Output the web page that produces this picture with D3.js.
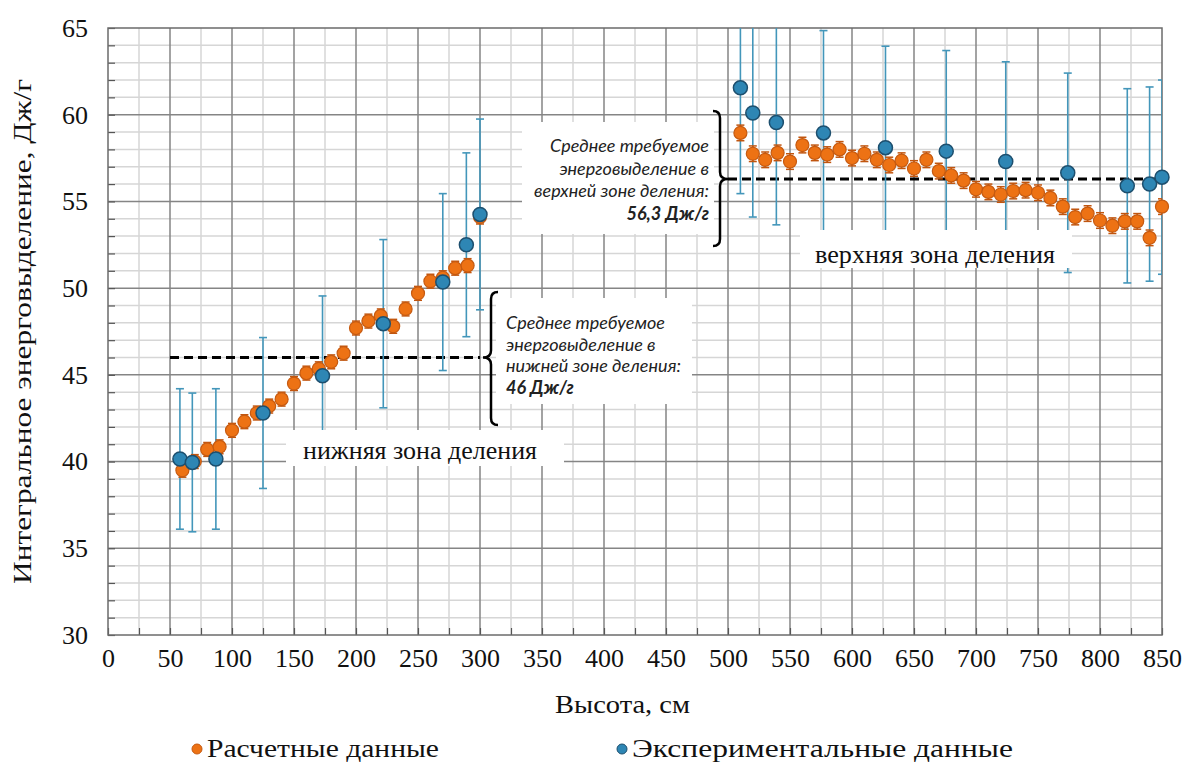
<!DOCTYPE html>
<html>
<head>
<meta charset="utf-8">
<script src="https://cdn.jsdelivr.net/npm/d3@7"></script>
<style>
  body { margin: 0; background: #fff; }
  svg { display: block; }
</style>
</head>
<body>
<div id="chart"></div>
<script>
// Calculated data (orange)
const calcX = [60, 70, 80, 90, 100, 110, 120, 130, 140, 150, 160, 170, 180, 190, 200, 210, 220, 230, 240, 250, 260, 270, 280, 290, 300,
    510, 520, 530, 540, 550, 560, 570, 580, 590, 600, 610, 620, 630, 640, 650, 660, 670, 680, 690, 700, 710, 720, 730, 740, 750, 760, 770, 780, 790, 800, 810, 820, 830, 840, 850];
const calcY = [39.5, 40.0, 40.7, 40.85, 41.8, 42.3, 42.8, 43.2, 43.6, 44.5, 45.1, 45.35, 45.75, 46.25, 47.7, 48.1, 48.4, 47.8, 48.8, 49.7, 50.4, 50.6, 51.15, 51.3, 54.1,
    58.95, 57.75, 57.4, 57.8, 57.3, 58.25, 57.8, 57.7, 58.0, 57.5, 57.75, 57.4, 57.1, 57.35, 56.9, 57.4, 56.75, 56.5, 56.2, 55.7, 55.55, 55.4, 55.6, 55.65, 55.5, 55.2, 54.7, 54.1, 54.3, 53.9, 53.6, 53.85, 53.85, 52.9, 54.7];
const calcErr = [0.4, 0.4, 0.4, 0.4, 0.4, 0.4, 0.4, 0.4, 0.4, 0.4, 0.4, 0.4, 0.4, 0.4, 0.4, 0.4, 0.4, 0.4, 0.4, 0.4, 0.4, 0.4, 0.4, 0.4, 0.4,
    0.45, 0.45, 0.45, 0.45, 0.45, 0.45, 0.45, 0.45, 0.45, 0.45, 0.45, 0.45, 0.45, 0.45, 0.45, 0.45, 0.45, 0.45, 0.45, 0.45, 0.45, 0.45, 0.45, 0.45, 0.45, 0.45, 0.45, 0.45, 0.45, 0.45, 0.45, 0.45, 0.45, 0.45, 0.45];

// Experimental data (blue)
const expX = [58, 68, 87, 125, 173, 222, 270, 289, 300, 510, 520, 539, 577, 627, 676, 724, 774, 822, 840, 850];
const expY = [40.15, 39.95, 40.15, 42.8, 44.95, 47.95, 50.35, 52.5, 54.25, 61.55, 60.1, 59.55, 58.95, 58.1, 57.9, 57.3, 56.65, 55.9, 56.0, 56.4];
const expErr = [4.05, 4.0, 4.05, 4.35, 4.6, 4.85, 5.1, 5.3, 5.5, 6.1, 6.0, 5.9, 5.9, 5.85, 5.8, 5.75, 5.75, 5.6, 5.6, 5.6];

// Average lines: [x start, x end, value]
const lowerMean = [50, 300, 46];
const upperMean = [500, 850, 56.3];

const xTicks = d3.range(0, 851, 50);
const yTicks = [30, 35, 40, 45, 50, 55, 60, 65];

const width = 1187, height = 769;
const margin = { left: 108, right: 25, top: 28, bottom: 134 };

const svg = d3.select("#chart").append("svg")
    .attr("width", width)
    .attr("height", height);

const x = d3.scaleLinear().domain([0, 850]).range([margin.left, width - margin.right]);
const y = d3.scaleLinear().domain([30, 65]).range([height - margin.bottom, margin.top]);

const serif = "'Liberation Serif', 'Times New Roman', 'DejaVu Serif', serif";
const serifNarrow = "'Liberation Serif', 'Times New Roman', 'DejaVu Serif Condensed', 'DejaVu Serif', serif";
const italicFont = "Lato, 'Open Sans', sans-serif";

// Grid: minor lines first, then major
const grid = svg.append("g");
grid.selectAll(".vminor").data(d3.range(25, 850, 50)).enter().append("line")
    .attr("x1", d => x(d)).attr("x2", d => x(d))
    .attr("y1", y(30)).attr("y2", y(65))
    .attr("stroke", "#d6d6d6").attr("stroke-width", 1.5);
grid.selectAll(".hminor").data(d3.range(31, 65).filter(v => v % 5 !== 0)).enter().append("line")
    .attr("x1", x(0)).attr("x2", x(850))
    .attr("y1", d => y(d)).attr("y2", d => y(d))
    .attr("stroke", "#d6d6d6").attr("stroke-width", 1.5);
grid.selectAll(".vmajor").data(xTicks.slice(1, -1)).enter().append("line")
    .attr("x1", d => x(d)).attr("x2", d => x(d))
    .attr("y1", y(30)).attr("y2", y(65))
    .attr("stroke", "#858585").attr("stroke-width", 1.5);
grid.selectAll(".hmajor").data(yTicks.slice(1, -1)).enter().append("line")
    .attr("x1", x(0)).attr("x2", x(850))
    .attr("y1", d => y(d)).attr("y2", d => y(d))
    .attr("stroke", "#858585").attr("stroke-width", 1.5);

// Axes
const xAxis = d3.axisBottom(x).tickValues(d3.range(0, 851, 25)).tickSizeInner(-7).tickSizeOuter(0)
    .tickFormat(d => d % 50 === 0 ? d : "");
const yAxis = d3.axisLeft(y).tickValues(d3.range(30, 66, 1)).tickSizeInner(-7).tickSizeOuter(0)
    .tickFormat(d => d % 5 === 0 ? d : "");

const gx = svg.append("g").attr("transform", `translate(0,${y(30)})`).call(xAxis);
const gy = svg.append("g").attr("transform", `translate(${x(0)},0)`).call(yAxis);
[gx, gy].forEach(g => {
    g.attr("font-family", null).attr("font-size", null);
    g.select(".domain").remove();
    g.selectAll(".tick line").attr("stroke", "#555").attr("stroke-width", 1.2);
    g.selectAll("text").style("font-family", serif).style("font-size", "26px").attr("fill", "#111");
});
gx.selectAll("text").attr("y", 14).attr("dy", "0.71em");
gy.selectAll("text").attr("x", -20);

// Plot frame
svg.append("rect")
    .attr("x", x(0)).attr("y", y(65))
    .attr("width", x(850) - x(0)).attr("height", y(30) - y(65))
    .attr("fill", "none").attr("stroke", "#6b6b6b").attr("stroke-width", 1.5);

// Mean dashed lines
[lowerMean, upperMean].forEach(m => {
    svg.append("line")
        .attr("x1", x(m[0])).attr("x2", x(m[1]))
        .attr("y1", y(m[2])).attr("y2", y(m[2]))
        .attr("stroke", "#000").attr("stroke-width", 3)
        .attr("stroke-dasharray", "9,5");
});

// Clip for error bars
svg.append("clipPath").attr("id", "plotClip").append("rect")
    .attr("x", x(0)).attr("y", y(65))
    .attr("width", x(850) - x(0)).attr("height", y(30) - y(65));

const expData = expX.map((d, i) => ({ x: d, y: expY[i], e: expErr[i] }));
const calcData = calcX.map((d, i) => ({ x: d, y: calcY[i], e: calcErr[i] }));

function errorBars(data, color, cap, sw) {
    const g = svg.append("g").attr("clip-path", "url(#plotClip)");
    g.selectAll("line.v").data(data).enter().append("line")
        .attr("x1", d => x(d.x)).attr("x2", d => x(d.x))
        .attr("y1", d => y(d.y - d.e)).attr("y2", d => y(d.y + d.e))
        .attr("stroke", color).attr("stroke-width", sw);
    [1, -1].forEach(s => {
        g.selectAll(null).data(data).enter().append("line")
            .attr("x1", d => x(d.x) - cap).attr("x2", d => x(d.x) + cap)
            .attr("y1", d => y(d.y + s * d.e)).attr("y2", d => y(d.y + s * d.e))
            .attr("stroke", color).attr("stroke-width", sw);
    });
}

errorBars(expData, "#4396ba", 4, 1.6);

// White label boxes that hide the grid and error bars behind them
const boxes = [
    [286, 430, 278, 36],
    [800, 230, 272, 38],
    [496, 298, 196, 106],
    [522, 122, 192, 112]
];
svg.selectAll(".box").data(boxes).enter().append("rect")
    .attr("x", d => d[0]).attr("y", d => d[1])
    .attr("width", d => d[2]).attr("height", d => d[3])
    .attr("fill", "#fff");

errorBars(calcData, "#c0550f", 4, 1.5);

// Points
svg.append("g").selectAll("circle").data(calcData).enter().append("circle")
    .attr("cx", d => x(d.x)).attr("cy", d => y(d.y)).attr("r", 6.5)
    .attr("fill", "#ed7214").attr("stroke", "#c65a10").attr("stroke-width", 1.2);
svg.append("g").selectAll("circle").data(expData).enter().append("circle")
    .attr("cx", d => x(d.x)).attr("cy", d => y(d.y)).attr("r", 7)
    .attr("fill", "#2e86b4").attr("stroke", "#1d4f6e").attr("stroke-width", 1.5);

// Braces
function brace(x0, y1, y2, ym, dir) {
    const w = 7 * dir, t = 8 * dir;
    return `M${x0 + w},${y1} Q${x0},${y1} ${x0},${y1 + 7} L${x0},${ym - 7} Q${x0},${ym} ${x0 - t},${ym}` +
        ` Q${x0},${ym} ${x0},${ym + 7} L${x0},${y2 - 7} Q${x0},${y2} ${x0 + w},${y2}`;
}
svg.append("path").attr("d", brace(491, 292, 425, y(lowerMean[2]), 1))
    .attr("fill", "none").attr("stroke", "#000").attr("stroke-width", 2.5);
svg.append("path").attr("d", brace(720, 111, 246, y(upperMean[2]), -1))
    .attr("fill", "none").attr("stroke", "#000").attr("stroke-width", 2.5);

// Annotation texts
const lowerNote = ["Среднее требуемое", "энерговыделение в", "нижней зоне деления:", "46 Дж/г"];
const upperNote = ["Среднее требуемое", "энерговыделение в", "верхней зоне деления:", "56,3 Дж/г"];

svg.append("g").selectAll("text").data(lowerNote).enter().append("text")
    .attr("x", 506).attr("y", (d, i) => 329 + i * 21.5)
    .style("font-family", italicFont).style("font-style", "italic").style("font-size", "18px")
    .style("font-weight", (d, i) => i === 3 ? "bold" : "normal")
    .attr("fill", "#222").text(d => d);
svg.append("g").selectAll("text").data(upperNote).enter().append("text")
    .attr("x", 709).attr("y", (d, i) => 152 + i * 22.5).attr("text-anchor", "end")
    .style("font-family", italicFont).style("font-style", "italic").style("font-size", "18px")
    .style("font-weight", (d, i) => i === 3 ? "bold" : "normal")
    .attr("fill", "#222").text(d => d);

// Plain serif text with a fixed width
function serifText(tx, ty, str, size, len, anchor) {
    return svg.append("text").attr("x", tx).attr("y", ty)
        .attr("text-anchor", anchor || "start")
        .attr("textLength", len).attr("lengthAdjust", "spacingAndGlyphs")
        .style("font-family", serifNarrow).style("font-stretch", "condensed")
        .style("font-size", size + "px").attr("fill", "#111")
        .text(str);
}

// Zone labels
serifText(303, 459, "нижняя зона деления", 25, 234);
serifText(815, 263, "верхняя зона деления", 25, 240);

// Axis titles
serifText(555, 713, "Высота, см", 26, 135);
svg.append("g").attr("transform", `translate(31,${(y(30) + y(65)) / 2}) rotate(-90)`)
    .append("text").attr("text-anchor", "middle")
    .attr("textLength", 505).attr("lengthAdjust", "spacingAndGlyphs")
    .style("font-family", serifNarrow).style("font-stretch", "condensed")
    .style("font-size", "26px").attr("fill", "#111")
    .text("Интегральное энерговыделение, Дж/г");

// Legend
const legendItems = [
    { label: "Расчетные данные", fill: "#ed7214", stroke: "#c65a10", cx: 197, len: 232 },
    { label: "Экспериментальные данные", fill: "#2e86b4", stroke: "#1d4f6e", cx: 622, len: 381 }
];
legendItems.forEach(d => {
    svg.append("circle").attr("cx", d.cx).attr("cy", 749).attr("r", 5)
        .attr("fill", d.fill).attr("stroke", d.stroke);
    serifText(d.cx + 10, 757, d.label, 26, d.len);
});
</script>
</body>
</html>
